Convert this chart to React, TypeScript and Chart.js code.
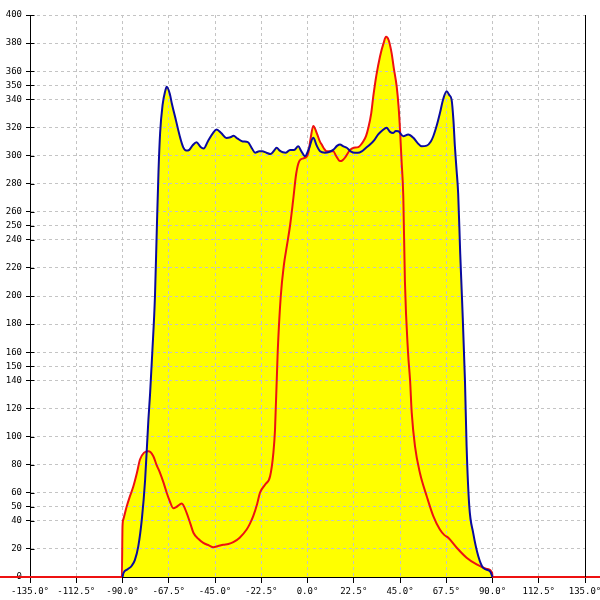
import { useEffect, useRef } from "react";
import { Chart, registerables } from "chart.js";

Chart.register(...registerables);

const xTickValues = [-135, -112.5, -90, -67.5, -45, -22.5, 0, 22.5, 45, 67.5, 90, 112.5, 135];
const yTickValues = [0, 20, 40, 50, 60, 80, 100, 120, 140, 150, 160, 180, 200, 220, 240, 250, 260, 280, 300, 320, 340, 350, 360, 380, 400];

const blueAngles = [
  -90, -89.5, -87.5, -85.5, -84, -82.3, -80.6, -79, -77.4, -76.6, -75.5, -74.2, -73.3, -72.5, -71.7, -70.5, -69.2, -68.5, -67, -66, -64, -62, -60.5, -59, -57.5, -56, -54, -52, -50.5, -48.5, -46, -44.2, -42, -39.5, -37.5, -36, -34, -31.5, -29, -27, -25.5, -23.5, -22, -20, -18, -16.5, -15, -13.5, -12, -10.5, -8.5, -6.5, -4.5, -3, -1.2, 0.5, 2.8, 4.5, 6.1, 8.5, 10.5, 12.5, 14.5, 15.8, 17.5, 19.1, 21, 23.1, 24.5, 26.4, 28.5, 30.4, 32.5, 34.4, 36.5, 38.5, 40, 41.7, 43, 44.2, 46.6, 49, 51.5, 53.5, 55.5, 58, 60, 61.2, 63, 64.4, 66, 67.7, 69, 70.1, 71, 71.7, 72.5, 73.3, 74.3, 75.2, 76.6, 77.4, 78.7, 80.6, 83.1, 85.5, 88.8, 90,
];
const blueValues = [
  0, 3, 5.5, 8, 12, 22, 41, 69, 112, 130, 160, 200, 248, 288, 316, 336, 346, 349, 344, 337, 325, 313, 306, 303.5, 304, 307, 309.5, 306, 305, 310, 316, 318.5, 316, 312.5, 313, 314, 312, 310, 309.5, 305, 302, 303, 303, 302, 301, 303, 305.5, 303.5, 302.3, 302, 304, 304, 306.6, 303, 299.5, 304, 312.6, 307, 303, 302, 302.5, 304, 307, 307.8, 306.5, 305.5, 303, 302, 302, 303, 305.5, 307.8, 311, 315, 318, 319.7, 317, 316, 317.5, 317.3, 313.7, 315, 312.6, 309, 306.6, 307, 310, 313.7, 322, 330, 340, 345.7, 343, 339.8, 325, 306.6, 290, 273, 230, 197, 140, 93, 50.4, 31.4, 14.8, 6.5, 4, 0,
];

const redAngles = [
  -150, -90.3, -90, -89.6, -88, -86.5, -84.7, -83, -81.5, -79.5, -77.4, -75, -73.5, -71.7, -70, -68.5, -67, -65.3, -63.6, -61.2, -58.8, -57, -55.5, -53, -50.7, -48, -45.8, -43.5, -41, -38.5, -36.1, -33, -29.6, -28, -26.4, -24.5, -23.1, -20.5, -18.2, -16.6, -15.8, -14.5, -13, -11.5, -10, -8.5, -7, -5.5, -4, -2, -0.5, 0.4, 1.5, 2.8, 4.5, 6, 6.9, 8, 9.3, 11, 12.5, 14, 15.8, 17, 18.2, 20.7, 22.5, 24.7, 27.1, 28.5, 29.6, 31, 32, 33.5, 35.3, 37, 38.2, 39.5, 40.9, 42, 43.4, 44.3, 45, 45.8, 46.6, 47.4, 48.9, 49.9, 50.7, 52.3, 54.7, 58, 61.2, 64.4, 66.5, 68.5, 72.6, 77.4, 82.3, 87.2, 89.8, 90, 150,
];
const redValues = [
  0, 0, 36, 41, 50, 57, 64.6, 74, 83.6, 88.5, 89.5, 86, 80, 74, 67, 60, 54, 49, 50, 52.3, 45.7, 38, 31.5, 27, 24.3, 22.5, 21.2, 22, 23, 23.5, 24.8, 28, 33.8, 38, 43.3, 52, 60, 66, 71.7, 88.4, 105, 160, 200, 222, 236, 250, 268, 287, 296, 298, 299, 302, 312, 321, 316, 310, 307.8, 305, 303, 303, 303, 299.5, 296, 296.5, 298.4, 304, 305.5, 306, 310, 314, 319.7, 330, 342, 357, 370.7, 380, 384.5, 382, 373, 362, 349, 335, 318.5, 295, 271, 210, 160, 140, 117, 93, 74, 57.5, 43.3, 33.8, 30, 27.9, 20.8, 13.7, 8.9, 5.8, 3, 0, 0,
];

const tickFont = { family: "'DejaVu Sans Mono', monospace", size: 9 };

export default function App() {
  const ref = useRef<HTMLCanvasElement>(null);

  useEffect(() => {
    if (!ref.current) return;
    const axisExtras = {
      id: "axisExtras",
      afterDraw(chart: any) {
        const { ctx, chartArea, scales } = chart;
        const x = Math.round(scales.x.getPixelForValue(135)) + 0.5;
        ctx.save();
        ctx.strokeStyle = "#000";
        ctx.lineWidth = 1;
        ctx.beginPath();
        ctx.moveTo(x, chartArea.top);
        ctx.lineTo(x, chartArea.bottom);
        const left = Math.round(chartArea.left) + 0.5;
        yTickValues.forEach((v) => {
          if (v === 0) return;
          const y = Math.round(scales.y.getPixelForValue(v)) + 0.5;
          ctx.moveTo(left, y);
          ctx.lineTo(left + 4, y);
        });
        ctx.stroke();
        ctx.restore();
      },
    };

    const chart = new Chart(ref.current, {
      type: "line",
      data: {
        datasets: [
          {
            data: blueAngles.map((a, i) => ({ x: a, y: blueValues[i] })),
            borderColor: "#0a0aa0",
            borderWidth: 2,
            backgroundColor: "#ffff00",
            fill: "origin",
            pointRadius: 0,
            cubicInterpolationMode: "monotone",
          },
          {
            data: redAngles.map((a, i) => ({ x: a, y: redValues[i] })),
            borderColor: "#ee1111",
            borderWidth: 2,
            backgroundColor: "#ffff00",
            fill: "origin",
            pointRadius: 0,
            cubicInterpolationMode: "monotone",
            clip: false,
          },
        ],
      },
      options: {
        responsive: false,
        animation: false,
        devicePixelRatio: 1,
        layout: { padding: { top: 15, right: 15, left: 0, bottom: 0 } },
        plugins: {
          legend: { display: false },
          tooltip: { enabled: false },
          filler: { drawTime: "beforeDraw" },
        },
        scales: {
          x: {
            type: "linear",
            min: -135,
            max: 135,
            afterBuildTicks: (s: any) => {
              s.ticks = xTickValues.map((v) => ({ value: v }));
            },
            afterFit: (s: any) => {
              s.height = 23;
              s.paddingLeft = 0;
              s.paddingRight = 0;
            },
            ticks: {
              font: tickFont,
              color: "#000",
              padding: 3,
              maxRotation: 0,
              autoSkip: false,
              callback: (v: any) => Number(v).toFixed(1) + "°",
            },
            grid: { color: "#c4c4c4", tickColor: "#000", tickLength: 6 },
            border: { color: "#000", width: 1, dash: [3, 3] },
          },
          y: {
            type: "linear",
            min: 0,
            max: 400,
            afterBuildTicks: (s: any) => {
              s.ticks = yTickValues.map((v) => ({ value: v }));
            },
            afterFit: (s: any) => {
              s.width = 30;
              s.paddingTop = 0;
              s.paddingBottom = 0;
            },
            ticks: {
              font: tickFont,
              color: "#000",
              padding: 4,
              autoSkip: false,
              callback: (v: any) => String(v),
            },
            grid: { color: "#c4c4c4", tickColor: "#000", tickLength: 4 },
            border: { color: "#000", width: 1, dash: [3, 3] },
          },
        },
      },
      plugins: [axisExtras],
    } as any);

    return () => chart.destroy();
  }, []);

  return (
    <div style={{ position: "fixed", left: 0, top: 0, width: 600, height: 600, background: "#fff" }}>
      <canvas ref={ref} width={600} height={600} />
    </div>
  );
}
